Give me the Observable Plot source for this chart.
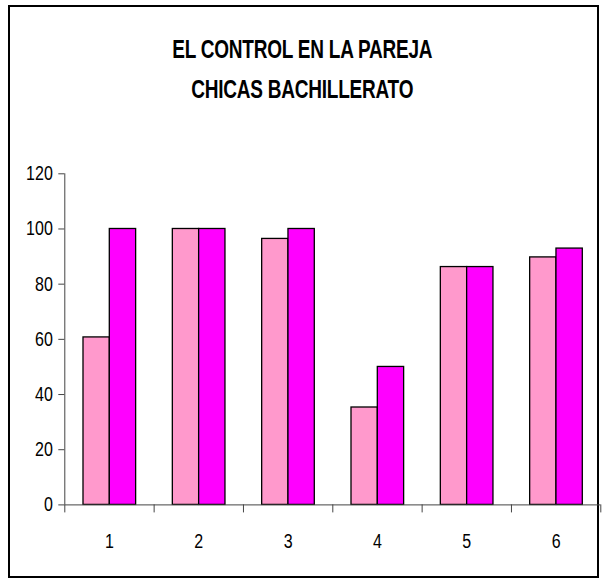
<!DOCTYPE html>
<html>
<head>
<meta charset="utf-8">
<script src="https://cdn.jsdelivr.net/npm/d3@7"></script>
<script src="https://cdn.jsdelivr.net/npm/@observablehq/plot@0.6"></script>
<style>
  html, body { margin: 0; padding: 0; background: #fff; width: 604px; height: 584px; overflow: hidden; }
  #frame { position: absolute; left: 8px; top: 5px; width: 591px; height: 573px; border: 2px solid #000; box-sizing: border-box; }
  #title { position: absolute; left: 0; top: 29px; width: 604px; text-align: center;
    font-family: "Liberation Sans", Arial, sans-serif; font-weight: bold;
    font-size: 25px; line-height: 40px; color: #000; letter-spacing: -0.3px;
    transform: scaleX(0.76); transform-origin: 303px 0; }
  #chart { position: absolute; left: 0; top: 150px; }
</style>
</head>
<body>
<div id="frame"></div>
<div id="title">EL CONTROL EN LA PAREJA<br>CHICAS BACHILLERATO</div>
<div id="chart"></div>
<script>
const categories = [1, 2, 3, 4, 5, 6];
const seriesA = [60.7, 100, 96.4, 35.3, 86.2, 89.7];   // light pink
const seriesB = [100, 100, 100, 50, 86.2, 92.9];       // magenta
const yTicks = [0, 20, 40, 60, 80, 100, 120];
const colorA = "#FF99CC";
const colorB = "#FF00FF";

const dataA = categories.map((c, i) => ({cat: c, value: seriesA[i]}));
const dataB = categories.map((c, i) => ({cat: c, value: seriesB[i]}));
const bounds = categories.map(c => c - 0.5).concat([categories[categories.length - 1] + 0.5]);

const font = '"Liberation Sans", Arial, sans-serif';
const axisColor = "#444";

const chart = Plot.plot({
  width: 604,
  height: 420,
  marginLeft: 64.3,
  marginRight: 3.7,
  marginTop: 23.3,
  marginBottom: 65.6,
  style: {fontFamily: font, fontSize: "20px", color: "#000", background: "transparent"},
  x: {type: "linear", domain: [0.5, 6.5], axis: null},
  y: {domain: [0, 120], axis: null},
  marks: [
    Plot.rectY(dataA, {x1: d => d.cat - 0.5, x2: d => d.cat + 0.5, y: "value",
      fill: colorA, stroke: "#000", strokeWidth: 1.3, insetLeft: 18.7, insetRight: 44.3}),
    Plot.rectY(dataB, {x1: d => d.cat - 0.5, x2: d => d.cat + 0.5, y: "value",
      fill: colorB, stroke: "#000", strokeWidth: 1.3, insetLeft: 45, insetRight: 18}),
    Plot.ruleX([0.5], {y1: 0, y2: 120, stroke: axisColor, strokeWidth: 1}),
    Plot.ruleY([0], {x1: 0.5, x2: 6.5, stroke: axisColor, strokeWidth: 1}),
    Plot.axisY({ticks: yTicks, tickSize: 6, tickPadding: 6, stroke: axisColor, fill: "#000",
      fontSize: 20, label: null, tickFormat: d => String(d)}),
    Plot.axisX({ticks: bounds, tickSize: 8, tickFormat: () => "", stroke: axisColor, label: null}),
    Plot.axisX({ticks: categories, tickSize: 0, tickPadding: 29, fill: "#000", fontSize: 20,
      label: null, tickFormat: d => String(d)})
  ]
});
// condense the tick label glyphs horizontally (narrow font look), keeping anchors
chart.querySelectorAll('g[aria-label$="tick label"] text').forEach(t => {
  const tr = t.getAttribute("transform") || "";
  t.setAttribute("transform", tr + " scale(0.8,1)");
});
document.getElementById("chart").appendChild(chart);
</script>
</body>
</html>
